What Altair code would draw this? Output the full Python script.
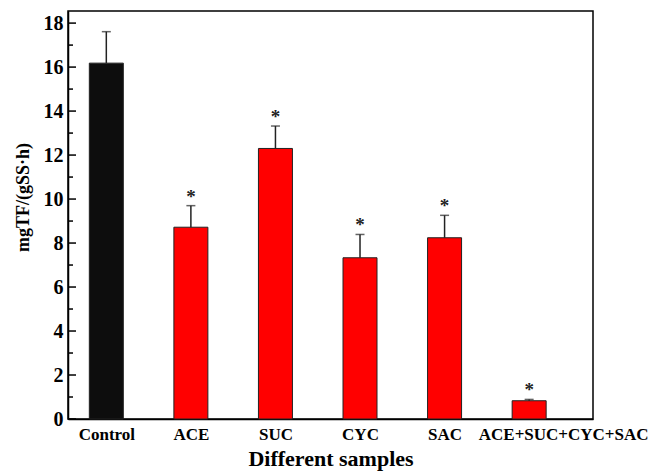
import json
import altair as alt
import pandas as pd

samples = ["Control", "ACE", "SUC", "CYC", "SAC", "ACE+SUC+CYC+SAC"]
positions = [1, 2, 3, 4, 5, 6]
values = [16.18, 8.72, 12.30, 7.33, 8.24, 0.83]
errors = [1.43, 0.98, 1.02, 1.06, 1.02, 0.06]
stars = ["", "*", "*", "*", "*", "*"]

major_ticks = [0, 2, 4, 6, 8, 10, 12, 14, 16, 18]
minor_ticks = [1, 3, 5, 7, 9, 11, 13, 15, 17]

df = pd.DataFrame({
    "sample": samples,
    "pos": positions,
    "value": values,
    "err": errors,
    "star": stars,
})
df["upper"] = df["value"] + df["err"]

FONT = "Liberation Serif"
xscale = alt.Scale(domain=[0.606, 6.696], nice=False, zero=False)
yscale = alt.Scale(domain=[0, 18.55], nice=False)

label_expr = json.dumps(samples) + "[datum.value - 1]"

base = alt.Chart(df)

bars = base.mark_bar(width=34, stroke="#222222", strokeWidth=1).encode(
    x=alt.X("pos:Q", scale=xscale,
            axis=alt.Axis(values=positions, labelExpr=label_expr, ticks=False,
                          grid=False, title="Different samples",
                          labelFont=FONT, labelFontSize=17, labelFontWeight="bold",
                          labelColor="black", labelPadding=7,
                          labelOffset={"condition": {"test": "datum.value == 6", "value": 34}, "value": 0},
                          titleFont=FONT, titleFontSize=22, titleFontWeight="bold",
                          titleColor="black", titlePadding=6,
                          domainColor="black", domainWidth=1.5, labelFlush=False)),
    y=alt.Y("value:Q", scale=yscale,
            axis=alt.Axis(values=major_ticks, ticks=False, grid=False,
                          title="mgTF/(gSS·h)",
                          labelFont=FONT, labelFontSize=20, labelFontWeight="bold",
                          labelColor="black", labelPadding=5,
                          titleFont=FONT, titleFontSize=18, titleFontWeight="bold",
                          titleColor="black", titleAngle=-90, titleX=-45, titleY=186,
                          titleAlign="center", titleBaseline="middle",
                          domainColor="black", domainWidth=1.5)),
    color=alt.condition(alt.datum.sample == "Control", alt.value("#0d0d0d"), alt.value("#ff0000")),
)

err_rule = base.mark_rule(color="#222222", strokeWidth=1.5).encode(
    x=alt.X("pos:Q", scale=xscale),
    y=alt.Y("value:Q", scale=yscale),
    y2="upper:Q",
)

caps = base.mark_tick(orient="horizontal", size=9, thickness=1.5, color="#222222").encode(
    x=alt.X("pos:Q", scale=xscale),
    y=alt.Y("upper:Q", scale=yscale),
)

star_text = base.mark_text(font=FONT, fontSize=19, fontWeight="bold", color="#222222",
                           baseline="alphabetic", dy=-3).encode(
    x=alt.X("pos:Q", scale=xscale),
    y=alt.Y("upper:Q", scale=yscale),
    text="star:N",
)

major_df = pd.DataFrame({"t": major_ticks})
minor_df = pd.DataFrame({"t": minor_ticks})
major = alt.Chart(major_df).mark_rule(color="black", strokeWidth=1.5).encode(
    y=alt.Y("t:Q", scale=yscale), x=alt.value(0), x2=alt.value(8))
minor = alt.Chart(minor_df).mark_rule(color="black", strokeWidth=1.5).encode(
    y=alt.Y("t:Q", scale=yscale), x=alt.value(0), x2=alt.value(5))

chart = alt.layer(bars, err_rule, caps, star_text, major, minor).properties(
    width=525, height=408,
    autosize=alt.AutoSizeParams(type="none"),
    padding={"left": 68, "top": 11, "right": 61, "bottom": 52},
    background="white",
).configure_view(stroke="black", strokeWidth=1.5)

chart.save("out.html", embed_options={"renderer": "svg", "actions": False})
